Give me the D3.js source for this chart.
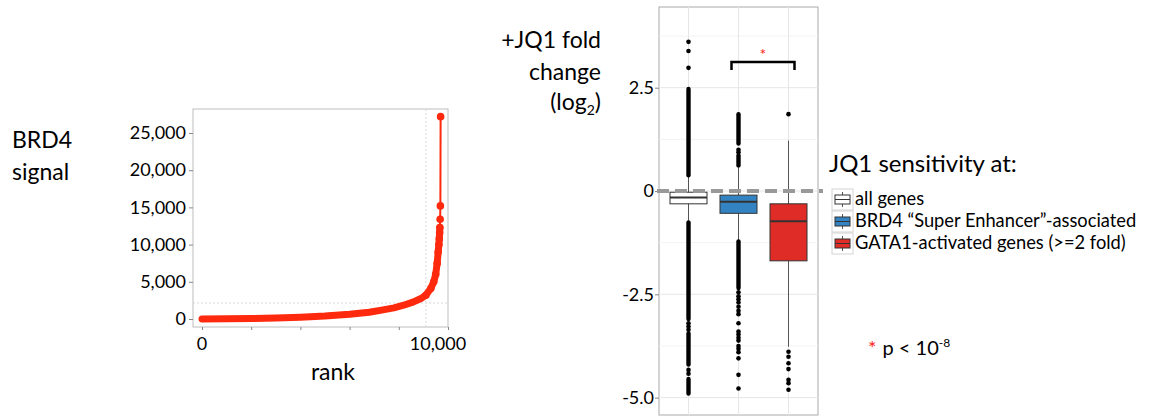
<!DOCTYPE html>
<html>
<head>
<meta charset="utf-8">
<script src="https://cdn.jsdelivr.net/npm/d3@7"></script>
<style>
  body { margin: 0; background: #fff; }
  text { font-family: Lato, "Noto Sans", sans-serif; fill: #000; }
</style>
</head>
<body>
<div id="chart"></div>
<script>
// ---- left panel: BRD4 signal by rank
const rankValues   = [0, 1000, 2000, 3000, 4000, 5000, 6000, 6800, 7300, 7800, 8200, 8600, 8900, 9100, 9300, 9420, 9500, 9560, 9600, 9630, 9645, 9660, 9670, 9680, 9690, 9700];
const signalValues = [0, 30, 70, 140, 230, 390, 630, 900, 1200, 1500, 1850, 2300, 2750, 3200, 4100, 5000, 6000, 7500, 9000, 10000, 10800, 11600, 12300, 13400, 15200, 27200];
const signalTicks = [0, 5000, 10000, 15000, 20000, 25000];
const rankTicks = [0, 2000, 4000, 6000, 8000, 10000];
const rankLabels = [0, 10000];
const cutoffRank = 9100, cutoffSignal = 2150;

// ---- right panel: JQ1 fold change boxplots
const groups = ["all genes", "BRD4 \u201cSuper Enhancer\u201d-associated", "GATA1-activated genes (>=2 fold)"];
const boxColors = ["#ffffff", "#3383c3", "#df2c27"];
const whiskerLow  = [-0.72, -1.19, -3.77];
const q1          = [-0.31, -0.54, -1.69];
const median      = [-0.16, -0.26, -0.73];
const q3          = [-0.03, -0.10, -0.31];
const whiskerHigh = [0.35, 0.68, 1.22];
// dense stretches of outliers drawn as solid runs [from, to]
const outlierRuns = [
  [[0.38, 2.47], [-0.76, -3.1], [-3.45, -4.2], [-4.55, -4.9]],
  [[1.15, 1.86], [0.62, 0.86], [-1.22, -2.35]],
  []
];
const outlierDots = [
  [3.61, 3.39, 2.98, -3.2, -3.28, -3.36, -4.33, -4.42],
  [1.0, 0.94, -2.45, -2.55, -2.62, -2.7, -2.8, -2.9, -2.98, -3.2, -3.4, -3.47, -3.55, -3.62, -3.75, -3.82, -3.9, -4.05, -4.45, -4.78],
  [1.86, -3.89, -4.01, -4.17, -4.31, -4.57, -4.65, -4.81]
];
const foldTicks = [2.5, 0, -2.5, -5.0];
const foldMinor = [3.75, 1.25, -1.25, -3.75];

const width = 1154, height = 417;
const red = "#ff2a0e";

const svg = d3.select("#chart").append("svg")
  .attr("width", width).attr("height", height)
  .style("background", "#fff");

// ================= left chart =================
const L = { left: 193, right: 448, top: 109, bottom: 327 };
const x = d3.scaleLinear().domain([0, 10000]).range([202, 448]);
const y = d3.scaleLinear().domain([0, 25000]).range([319, 133]);

const left = svg.append("g");
left.append("rect")
  .attr("x", L.left).attr("y", L.top)
  .attr("width", L.right - L.left).attr("height", L.bottom - L.top)
  .attr("fill", "#fff").attr("stroke", "#bdbdbd");

left.append("line")
  .attr("x1", L.left).attr("x2", L.right)
  .attr("y1", y(cutoffSignal)).attr("y2", y(cutoffSignal))
  .attr("stroke", "#d9d9d9").attr("stroke-dasharray", "2,2");
left.append("line")
  .attr("x1", x(cutoffRank)).attr("x2", x(cutoffRank))
  .attr("y1", L.top).attr("y2", L.bottom)
  .attr("stroke", "#d9d9d9").attr("stroke-dasharray", "2,2");

// y axis
const yAxis = left.append("g")
  .attr("transform", `translate(${L.left},0)`)
  .call(d3.axisLeft(y).tickValues(signalTicks).tickSize(4).tickPadding(3).tickFormat(d3.format(",")));
yAxis.select(".domain").remove();
yAxis.selectAll("line").attr("stroke", "#888");
yAxis.selectAll("text").style("font-size", "18px").style("font-family", "Lato, sans-serif").attr("fill", "#000");

// x axis ticks
const xAxis = left.append("g")
  .attr("transform", `translate(0,${L.bottom})`)
  .call(d3.axisBottom(x).tickValues(rankTicks).tickSize(3).tickFormat(""));
xAxis.select(".domain").remove();
xAxis.selectAll("line").attr("stroke", "#888");

left.selectAll(".rlabel")
  .data(rankLabels)
  .join("text")
  .attr("class", "rlabel")
  .attr("x", d => x(d) - (d > 0 ? 10 : 0))
  .attr("y", 350)
  .attr("text-anchor", "middle")
  .style("font-size", "18px")
  .text(d => d3.format(",")(d));

// curve
const pts = rankValues.map((r, i) => [r, signalValues[i]]);
const line = d3.line().x(d => x(d[0])).y(d => y(d[1]));
left.append("path")
  .attr("d", line(pts))
  .attr("fill", "none").attr("stroke", red).attr("stroke-width", 2);
left.append("path")
  .attr("d", line(pts.filter(d => d[1] <= 12300)))
  .attr("fill", "none").attr("stroke", red).attr("stroke-width", 7)
  .attr("stroke-linecap", "round").attr("stroke-linejoin", "round");
left.selectAll(".pt")
  .data(pts.filter(d => d[1] >= 3000))
  .join("circle")
  .attr("cx", d => x(d[0])).attr("cy", d => y(d[1]))
  .attr("r", 3.8).attr("fill", red);

left.append("text").attr("x", 12).attr("y", 148).style("font-size", "23px").text("BRD4");
left.append("text").attr("x", 12).attr("y", 180).style("font-size", "23px").text("signal");
left.append("text").attr("x", 333).attr("y", 380).attr("text-anchor", "middle")
  .style("font-size", "23px").text("rank");

// ================= right chart =================
const R = { left: 659, right: 818, top: 7, bottom: 415 };
const yf = d3.scaleLinear().domain([0, 2.5]).range([191, 87.7]);
const xb = d3.scalePoint().domain(groups).range([R.left, R.right]).padding(0.59);
const boxW = 37;

const right = svg.append("g");
right.append("rect")
  .attr("x", R.left).attr("y", R.top)
  .attr("width", R.right - R.left).attr("height", R.bottom - R.top)
  .attr("fill", "#fff").attr("stroke", "#aaa");

right.selectAll(".minor")
  .data(foldMinor).join("line")
  .attr("x1", R.left).attr("x2", R.right)
  .attr("y1", d => yf(d)).attr("y2", d => yf(d))
  .attr("stroke", "#f3f3f3");
right.selectAll(".major")
  .data(foldTicks).join("line")
  .attr("x1", R.left).attr("x2", R.right)
  .attr("y1", d => yf(d)).attr("y2", d => yf(d))
  .attr("stroke", "#e6e6e6");
right.selectAll(".vgrid")
  .data(groups).join("line")
  .attr("x1", d => xb(d)).attr("x2", d => xb(d))
  .attr("y1", R.top).attr("y2", R.bottom)
  .attr("stroke", "#e6e6e6");

const fAxis = right.append("g")
  .attr("transform", `translate(${R.left},0)`)
  .call(d3.axisLeft(yf).tickValues(foldTicks).tickSize(4).tickPadding(1)
    .tickFormat(d => d === 0 ? "0" : d.toFixed(1)));
fAxis.select(".domain").remove();
fAxis.selectAll("line").attr("stroke", "#888");
fAxis.selectAll("text").style("font-size", "18px").style("font-family", "Lato, sans-serif").attr("fill", "#000");

const boxes = right.selectAll(".box")
  .data(groups).join("g")
  .attr("transform", d => `translate(${xb(d)},0)`);

boxes.append("line")
  .attr("y1", (d, i) => yf(whiskerHigh[i])).attr("y2", (d, i) => yf(whiskerLow[i]))
  .attr("stroke", "#555").attr("stroke-width", 1);

boxes.each(function (d, i) {
  const g = d3.select(this);
  g.selectAll(".run")
    .data(outlierRuns[i]).join("line")
    .attr("y1", r => yf(r[0])).attr("y2", r => yf(r[1]))
    .attr("stroke", "#000").attr("stroke-width", 4.4).attr("stroke-linecap", "round");
  g.selectAll(".dot")
    .data(outlierDots[i]).join("circle")
    .attr("cy", v => yf(v)).attr("r", 2.3).attr("fill", "#000");
});

boxes.append("rect")
  .attr("x", -boxW / 2).attr("width", boxW)
  .attr("y", (d, i) => yf(q3[i])).attr("height", (d, i) => yf(q1[i]) - yf(q3[i]))
  .attr("fill", (d, i) => boxColors[i]).attr("stroke", "#333").attr("stroke-width", 1);
boxes.append("line")
  .attr("x1", -boxW / 2).attr("x2", boxW / 2)
  .attr("y1", (d, i) => yf(median[i])).attr("y2", (d, i) => yf(median[i]))
  .attr("stroke", "#333").attr("stroke-width", 2);

// zero reference
right.append("line")
  .attr("x1", 657).attr("x2", 823)
  .attr("y1", yf(0)).attr("y2", yf(0))
  .attr("stroke", "#999").attr("stroke-width", 4).attr("stroke-dasharray", "12,6");

// significance bracket
const bx1 = xb(groups[1]) - 7, bx2 = xb(groups[2]) + 6, by = 62;
right.append("path")
  .attr("d", `M${bx1},${by + 8}V${by}H${bx2}V${by + 8}`)
  .attr("fill", "none").attr("stroke", "#000").attr("stroke-width", 2.5);
right.append("text").attr("x", (bx1 + bx2) / 2).attr("y", 60).attr("text-anchor", "middle")
  .style("font-size", "16px").style("fill", "#f22").text("*");

// axis title
const ttl = right.append("text").attr("text-anchor", "end").style("font-size", "23px");
ttl.append("tspan").attr("x", 601).attr("y", 48).text("+JQ1 fold");
ttl.append("tspan").attr("x", 601).attr("y", 80).text("change");
const t3 = right.append("text").attr("x", 601).attr("y", 110).attr("text-anchor", "end").style("font-size", "23px");
t3.append("tspan").text("(log");
t3.append("tspan").attr("dy", 5).style("font-size", "14px").text("2");
t3.append("tspan").attr("dy", -5).text(")");

// legend
const lg = svg.append("g");
lg.append("text").attr("x", 829).attr("y", 172).style("font-size", "24px").text("JQ1 sensitivity at:");
const rows = lg.selectAll(".row").data(groups).join("g")
  .attr("transform", (d, i) => `translate(832,${189 + i * 22})`);
rows.append("rect").attr("width", 21).attr("height", 21)
  .attr("fill", "#fff").attr("stroke", "#d4d4d4");
rows.append("line").attr("x1", 10.5).attr("x2", 10.5).attr("y1", 3).attr("y2", 18)
  .attr("stroke", "#555");
rows.append("rect").attr("x", 3).attr("y", 6).attr("width", 15).attr("height", 9)
  .attr("fill", (d, i) => boxColors[i]).attr("stroke", "#333");
rows.append("line").attr("x1", 3).attr("x2", 18).attr("y1", 10.5).attr("y2", 10.5)
  .attr("stroke", "#333");
rows.append("text").attr("x", 23).attr("y", 16).style("font-size", "18.3px").text(d => d);

// p-value note
const pn = svg.append("text").attr("x", 868).attr("y", 355).style("font-size", "20px");
pn.append("tspan").style("fill", "#f22").text("*");
pn.append("tspan").attr("dx", 6).text("p < 10");
pn.append("tspan").attr("dy", -8).style("font-size", "12px").text("-8");
</script>
</body>
</html>
